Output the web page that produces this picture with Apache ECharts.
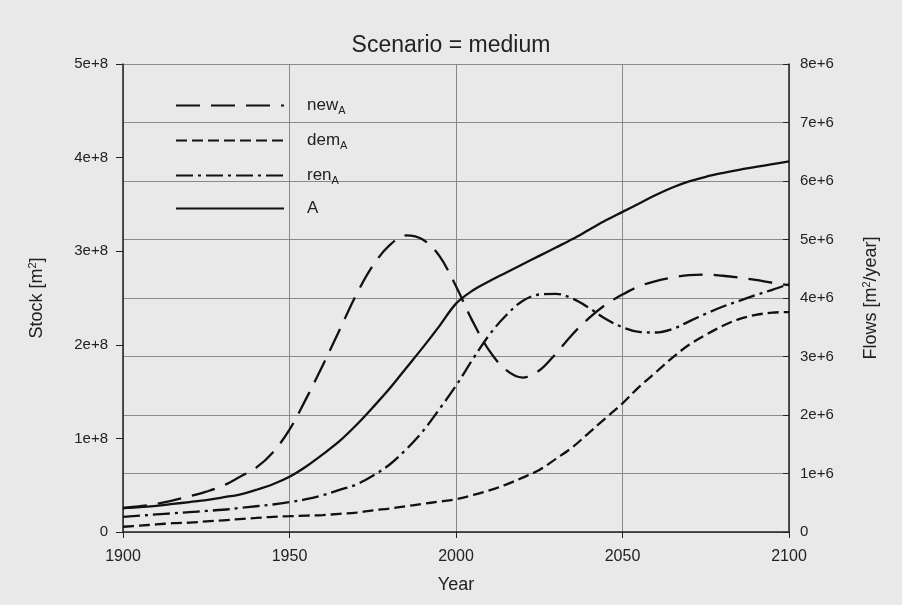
<!DOCTYPE html>
<html>
<head>
<meta charset="utf-8">
<script src="https://cdn.jsdelivr.net/npm/echarts@6/dist/echarts.min.js"></script>
<style>
  html, body { margin: 0; padding: 0; background: #e9e9e9; }
  #chart { width: 902px; height: 605px; }
</style>
</head>
<body>
<div id="chart"></div>
<script>
// years, every 5
const years = [];
for (let y = 1900; y <= 2100; y += 5) years.push(y);

// stock A [m2] (left axis)
const stockA = [
  2.56e7, 2.65e7, 2.8e7, 3.0e7, 3.2e7, 3.4e7, 3.7e7, 4.0e7, 4.5e7, 5.1e7,
  5.9e7, 7.0e7, 8.3e7, 9.7e7, 1.14e8, 1.33e8, 1.53e8, 1.75e8, 1.97e8, 2.2e8,
  2.44e8, 2.58e8, 2.68e8, 2.77e8, 2.86e8, 2.95e8, 3.04e8, 3.13e8, 3.23e8, 3.33e8,
  3.42e8, 3.51e8, 3.6e8, 3.68e8, 3.745e8, 3.795e8, 3.835e8, 3.87e8, 3.9e8, 3.93e8,
  3.96e8
];

// flows [m2/year] (right axis), in millions
const newA = [
  0.41, 0.44, 0.48, 0.54, 0.61, 0.69, 0.79, 0.94, 1.1, 1.36,
  1.75, 2.28, 2.85, 3.45, 4.05, 4.55, 4.9, 5.07, 5.0, 4.72,
  4.2, 3.6, 3.1, 2.77, 2.64, 2.76, 3.05, 3.38, 3.66, 3.89,
  4.06, 4.2, 4.29, 4.35, 4.39, 4.4, 4.38, 4.35, 4.31, 4.26,
  4.22
];
const demA = [
  0.09, 0.11, 0.13, 0.15, 0.16, 0.18, 0.2, 0.22, 0.24, 0.26,
  0.27, 0.28, 0.29, 0.31, 0.33, 0.37, 0.4, 0.44, 0.48, 0.52,
  0.56, 0.63, 0.71, 0.81, 0.93, 1.06, 1.25, 1.45, 1.7, 1.95,
  2.2, 2.48, 2.73, 2.98, 3.2, 3.37, 3.52, 3.64, 3.71, 3.75,
  3.76
];
const renA = [
  0.26, 0.28, 0.3, 0.32, 0.34, 0.36, 0.38, 0.41, 0.44, 0.47,
  0.51, 0.56, 0.63, 0.72, 0.81, 0.96, 1.15, 1.41, 1.72, 2.1,
  2.5, 2.95, 3.37, 3.7, 3.95, 4.06, 4.07, 3.99, 3.83, 3.64,
  3.5, 3.42, 3.41, 3.47, 3.6, 3.73, 3.85, 3.95, 4.05, 4.14,
  4.24
];

const font = 'Liberation Sans, Arial, sans-serif';
const pairs = (vals, k) => years.map((y, i) => [y, vals[i] * k]);

const chart = echarts.init(document.getElementById('chart'));

const lineSeries = (name, data, yIdx, dash) => ({
  name: name,
  type: 'line',
  yAxisIndex: yIdx,
  data: data,
  smooth: 0.35,
  symbol: 'none',
  lineStyle: { color: '#111', width: 2.3, type: dash },
  itemStyle: { color: '#111' }
});

chart.setOption({
  backgroundColor: '#e9e9e9',
  animation: false,
  textStyle: { fontFamily: font },
  title: {
    text: 'Scenario = medium',
    left: 'center',
    top: 29,
    textStyle: { fontFamily: font, fontSize: 23, fontWeight: 'normal', color: '#222' }
  },
  grid: { left: 123, right: 113, top: 64, bottom: 73 },
  legend: {
    orient: 'vertical',
    left: 170,
    top: 90,
    itemWidth: 108,
    itemHeight: 14,
    itemGap: 14,
    data: ['new', 'dem', 'ren', 'A'],
    itemStyle: { opacity: 0 },
    formatter: name => name === 'A' ? '{n|A}' : '{n|' + name + '}{s|A}',
    textStyle: {
      padding: [0, 0, 0, 18],
      rich: {
        n: { fontFamily: font, fontSize: 17, color: '#222', lineHeight: 20 },
        s: { fontFamily: font, fontSize: 11, color: '#222', lineHeight: 20, padding: [10, 0, 0, 0] }
      }
    }
  },
  xAxis: {
    type: 'value',
    min: 1900,
    max: 2100,
    interval: 50,
    name: 'Year',
    nameLocation: 'middle',
    nameGap: 44,
    nameTextStyle: { fontFamily: font, fontSize: 18, color: '#222' },
    axisLine: { lineStyle: { color: '#222', width: 1.5 } },
    axisTick: { length: 6, lineStyle: { color: '#222' } },
    axisLabel: { fontFamily: font, fontSize: 16, color: '#222', margin: 17, formatter: v => String(v) },
    splitLine: { show: true, lineStyle: { color: '#8a8a8a', width: 1 } }
  },
  yAxis: [
    {
      type: 'value',
      min: 0,
      max: 5e8,
      interval: 1e8,
      position: 'left',
      name: '{n|Stock [m}{s|2}{n|]}',
      nameLocation: 'middle',
      nameRotate: 90,
      nameGap: 76,
      nameTextStyle: {
        rich: {
          n: { fontFamily: font, fontSize: 18, color: '#222' },
          s: { fontFamily: font, fontSize: 11, color: '#222', padding: [0, 0, 9, 0] }
        }
      },
      axisLine: { show: true, lineStyle: { color: '#222', width: 1.5 } },
      axisTick: { show: true, length: 7, lineStyle: { color: '#222' } },
      axisLabel: {
        fontFamily: font, fontSize: 15, color: '#222', margin: 15,
        formatter: v => v === 0 ? '0' : (v / 1e8) + 'e+8'
      },
      splitLine: { show: false }
    },
    {
      type: 'value',
      min: 0,
      max: 8e6,
      interval: 1e6,
      position: 'right',
      name: '{n|Flows [m}{s|2}{n|/year]}',
      nameLocation: 'middle',
      nameRotate: 90,
      nameGap: 72,
      nameTextStyle: {
        rich: {
          n: { fontFamily: font, fontSize: 18, color: '#222' },
          s: { fontFamily: font, fontSize: 11, color: '#222', padding: [0, 0, 9, 0] }
        }
      },
      axisLine: { show: true, lineStyle: { color: '#222', width: 1.5 } },
      axisTick: { show: true, inside: true, length: 6, lineStyle: { color: '#222' } },
      axisLabel: {
        fontFamily: font, fontSize: 15, color: '#222', margin: 11,
        formatter: v => v === 0 ? '0' : (v / 1e6) + 'e+6'
      },
      splitLine: { show: true, lineStyle: { color: '#8a8a8a', width: 1 } }
    }
  ],
  series: [
    lineSeries('new', pairs(newA, 1e6), 1, [24, 11]),
    lineSeries('dem', pairs(demA, 1e6), 1, [11, 5]),
    lineSeries('ren', pairs(renA, 1e6), 1, [17, 5, 3, 5]),
    lineSeries('A', pairs(stockA, 1), 0, 'solid')
  ]
});
</script>
</body>
</html>
